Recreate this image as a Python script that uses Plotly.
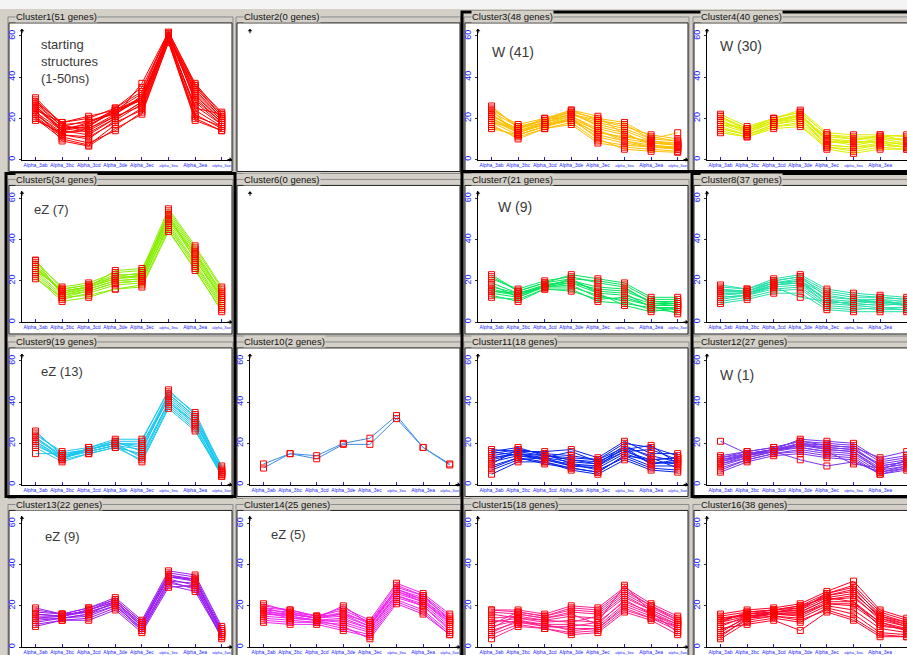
import plotly.graph_objects as go

W, H = 907, 655

# ---------------------------------------------------------------- data
categories = ["Alpha_3ab", "Alpha_3bc", "Alpha_3cd", "Alpha_3de",
              "Alpha_3ec", "alpha_3ea", "Alpha_3ea", "alpha_3ae"]
small_label_idx = [5, 7]
y_ticks = [0, 20, 40, 60]

gene_counts = [51, 0, 48, 40, 34, 0, 21, 37, 19, 2, 18, 27, 22, 25, 18, 38]

line_colors = ["#ff0000", "#ff0000", "#ffbf00", "#dcef00",
               "#88ee00", "#88ee00", "#00e65c", "#22e0a8",
               "#18c8f0", "#3a8ce8", "#0022ee", "#7733ee",
               "#9a1cf0", "#ee22ee", "#ff2090", "#ff0028"]

panel_notes = {
    0: "starting<br>structures<br>(1-50ns)",
    2: "W (41)", 3: "W (30)", 4: "eZ (7)", 6: "W (9)",
    8: "eZ (13)", 11: "W (1)", 12: "eZ (9)", 13: "eZ (5)",
}

cluster1 = [
    [28, 16, 15, 22, 30, 60, 33, 20], [30, 17, 18, 24, 32, 62, 37, 22],
    [25, 14, 12, 20, 28, 59, 30, 18], [22, 12, 10, 19, 27, 58, 26, 17],
    [20, 10, 7, 17, 25, 58, 22, 15], [19, 13, 14, 21, 26, 59, 24, 16],
    [26, 15, 17, 23, 29, 61, 35, 21], [24, 18, 20, 25, 33, 62, 36, 23],
    [21, 11, 8, 14, 23, 57, 20, 14], [27, 16, 19, 22, 31, 60, 31, 19],
    [23, 14, 16, 24, 30, 60, 34, 20], [29, 17, 13, 20, 28, 61, 29, 18],
    [20, 12, 11, 18, 24, 58, 21, 16], [25, 15, 16, 25, 35, 61, 32, 19],
    [22, 13, 15, 21, 37, 62, 28, 17], [28, 18, 21, 24, 29, 59, 25, 22],
    [24, 9, 6.5, 15, 22, 57, 19, 14], [26, 14, 18, 23, 30, 60, 36, 21],
]
cluster2 = []
cluster3 = [
    [25, 16, 19, 23, 20, 18, 11, 9], [22, 14, 18, 22, 17, 14, 9, 8],
    [20, 13, 17, 21, 15, 12, 8, 7], [18, 12, 16, 20, 12, 9, 7, 6],
    [16, 11, 15, 18, 9, 7, 6, 5], [24, 17, 20, 24, 19, 16, 12, 10],
    [21, 15, 18, 21, 14, 10, 8, 8], [19, 13, 17, 19, 11, 8, 6, 6],
    [23, 16, 19, 22, 18, 15, 10, 9], [17, 10, 15, 17, 8, 6, 5, 4],
    [15, 12, 16, 19, 13, 11, 9, 7], [26, 15, 20, 23, 16, 13, 7, 5],
    [20, 14, 17, 20, 10, 5, 4, 3.5], [22, 13, 18, 22, 19, 17, 10, 13],
    [18, 15, 19, 24, 21, 12, 8, 7], [24, 12, 16, 20, 14, 9, 6, 6],
]
cluster4 = [
    [21, 15, 20, 23, 12, 10, 11, 9], [19, 14, 19, 22, 10, 8, 10, 8],
    [17, 13, 18, 21, 9, 7, 9, 7], [15, 12, 17, 19, 7, 6, 8, 6],
    [14, 11, 16, 18, 6, 5, 7, 6], [22, 16, 20, 24, 13, 12, 12, 11],
    [18, 14, 18, 20, 8, 9, 8, 8], [16, 12, 16, 17, 5, 3, 5, 5],
    [20, 15, 19, 21, 11, 10, 10, 10], [13, 11, 15, 16, 6, 4, 6, 5],
    [19, 13, 18, 22, 9, 8, 9, 7], [17, 15, 20, 23, 12, 11, 11, 12],
    [15, 12, 17, 20, 7, 6, 7, 6], [21, 14, 19, 21, 10, 9, 12, 9],
]
cluster5 = [
    [28, 15, 17, 21, 22, 52, 34, 13], [30, 16, 18, 23, 23, 54, 36, 16],
    [25, 13, 16, 20, 21, 50, 32, 11], [23, 11, 14, 18, 19, 48, 29, 9],
    [21, 12, 13, 16, 18, 45, 25, 6], [27, 14, 17, 22, 22, 51, 33, 12],
    [29, 17, 19, 24, 25, 55, 37, 17], [24, 12, 15, 19, 20, 47, 28, 8],
    [26, 15, 17, 21, 23, 53, 35, 14], [22, 10, 12, 16, 17, 44, 26, 5],
    [28, 14, 16, 20, 21, 49, 31, 10], [25, 16, 18, 22, 24, 52, 30, 12],
    [30, 13, 15, 19, 20, 46, 27, 7], [26, 15, 17, 25, 26, 50, 33, 15],
]
cluster6 = []
cluster7 = [
    [22, 15, 19, 21, 20, 18, 11, 11], [19, 14, 18, 20, 17, 16, 10, 10],
    [16, 13, 17, 19, 14, 13, 9, 9], [14, 12, 17, 18, 12, 11, 8, 8],
    [12, 11, 16, 16, 10, 9, 7, 7], [21, 16, 20, 22, 19, 17, 9, 8],
    [15, 13, 18, 20, 15, 14, 7, 6], [17, 14, 17, 17, 13, 10, 6, 5],
    [13, 10, 16, 15, 11, 12, 8, 4], [23, 15, 19, 23, 21, 19, 12, 12],
    [18, 12, 18, 19, 16, 15, 10, 9], [15, 14, 17, 21, 14, 8, 5, 7],
]
cluster8 = [
    [17, 16, 20, 22, 15, 13, 12, 11], [15, 15, 19, 20, 13, 11, 11, 10],
    [14, 14, 18, 19, 11, 10, 10, 9], [12, 13, 17, 18, 9, 8, 9, 8],
    [10, 12, 15, 16, 7, 6, 7, 7], [18, 16, 21, 23, 16, 14, 13, 12],
    [13, 14, 18, 20, 10, 9, 8, 9], [11, 13, 16, 17, 8, 7, 6, 6],
    [16, 15, 19, 21, 14, 12, 12, 11], [9, 11, 14, 14, 6, 5, 5, 5],
    [14, 14, 17, 12, 10, 9, 10, 8], [15, 15, 20, 22, 12, 11, 9, 10],
    [12, 13, 18, 19, 9, 10, 11, 8], [16, 14, 19, 20, 11, 8, 7, 6],
]
cluster9 = [
    [25, 15, 17, 21, 21, 46, 34, 7], [23, 14, 17, 20, 19, 44, 33, 6],
    [21, 13, 16, 19, 17, 42, 31, 5], [20, 12, 15, 18, 15, 40, 29, 4],
    [18, 11, 15, 18, 12, 38, 27, 4], [24, 16, 18, 22, 22, 45, 35, 8],
    [22, 14, 17, 20, 18, 43, 32, 6], [19, 13, 16, 19, 14, 39, 28, 5],
    [15, 15, 17, 20, 20, 41, 30, 7], [26, 14, 16, 19, 11, 37, 26, 5],
    [21, 12, 18, 21, 16, 44, 33, 9], [23, 13, 17, 20, 13, 40, 30, 6],
]
cluster10 = [
    [10, 15, 14, 20, 22.5, 33.5, 18, 10],
    [8, 15, 12.5, 19.5, 19.5, 32, 18, 9.5],
]
cluster11 = [
    [17, 16, 14, 12, 10, 16, 12, 13], [15, 17, 15, 10, 9, 18, 14, 11],
    [13, 15, 13, 16, 11, 17, 10, 12], [11, 14, 12, 9, 8, 15, 11, 10],
    [9, 13, 11, 8, 6, 14, 9, 9], [16, 18, 14, 13, 12, 20, 18, 14],
    [7, 12, 13, 11, 10, 19, 13, 8], [14, 16, 16, 17, 13, 21, 15, 15],
    [12, 15, 12, 10, 7, 13, 8, 7], [5, 11, 11, 7, 5, 12, 7, 6],
    [16, 14, 13, 9, 9, 16, 17, 12], [10, 17, 15, 14, 12, 18, 10, 11],
    [8, 13, 10, 8, 6, 14, 12, 13], [13, 15, 14, 12, 11, 17, 19, 10],
]
cluster12 = [
    [21, 15, 17, 19, 18, 17, 10, 12], [13, 15, 17, 20, 19, 18, 9, 11],
    [12, 14, 16, 19, 17, 16, 8, 10], [10, 13, 16, 18, 16, 15, 7, 9],
    [8, 12, 15, 17, 15, 14, 6, 8], [14, 16, 18, 21, 20, 19, 11, 13],
    [11, 14, 17, 20, 18, 17, 9, 11], [7, 12, 15, 16, 14, 13, 5, 7],
    [6, 11, 14, 15, 13, 12, 5, 8], [12, 15, 17, 22, 21, 20, 12, 14],
    [9, 13, 16, 12, 9, 11, 6, 9], [13, 16, 18, 21, 19, 18, 13, 16],
    [10, 14, 17, 18, 16, 10, 8, 10], [11, 15, 16, 20, 17, 16, 7, 12],
]
cluster13 = [
    [18, 16, 19, 23, 12, 36, 34, 9], [16, 15, 18, 22, 11, 35, 33, 8],
    [14, 15, 17, 21, 10, 34, 32, 7], [12, 14, 16, 20, 9, 32, 31, 6],
    [10, 13, 14, 19, 8, 31, 29, 5], [19, 16, 19, 24, 13, 37, 35, 10],
    [15, 15, 18, 22, 11, 33, 30, 7], [13, 14, 15, 20, 9, 32, 28, 6],
    [17, 16, 17, 21, 8, 30, 27, 5], [11, 13, 13, 18, 7, 29, 30, 4],
    [16, 15, 18, 23, 12, 35, 32, 8], [14, 14, 16, 22, 10, 34, 33, 7],
]
cluster14 = [
    [20, 18, 15, 18, 12, 30, 25, 15], [18, 17, 14, 17, 11, 28, 24, 14],
    [17, 16, 14, 16, 10, 27, 23, 12], [16, 15, 13, 14, 9, 26, 22, 11],
    [15, 14, 13, 12, 8, 25, 21, 10], [14, 13, 12, 11, 7, 24, 20, 9],
    [21, 17, 15, 19, 13, 31, 26, 16], [19, 16, 14, 15, 10, 29, 25, 13],
    [13, 12, 12, 9, 6, 23, 18, 7], [12, 11, 11, 8, 5, 22, 17, 6],
    [18, 15, 13, 13, 9, 25, 20, 8], [16, 16, 14, 20, 11, 27, 22, 12],
    [17, 14, 13, 10, 4, 21, 16, 6], [19, 18, 15, 16, 12, 28, 23, 13],
]
cluster15 = [
    [18, 17, 15, 19, 18, 28, 20, 14], [17, 16, 14, 17, 16, 26, 19, 13],
    [14, 15, 13, 15, 14, 24, 18, 12], [12, 14, 12, 13, 12, 22, 17, 11],
    [10, 13, 11, 11, 10, 21, 16, 10], [8, 12, 10, 9, 9, 20, 15, 9],
    [6, 11, 9, 7, 8, 18, 14, 8], [4, 10, 9, 6, 7, 17, 13, 6],
    [18, 18, 16, 20, 19, 29, 21, 15], [16, 14, 13, 12, 15, 25, 18, 12],
    [9, 16, 14, 16, 11, 23, 16, 11], [13, 12, 11, 8, 9, 19, 14, 10],
    [11, 17, 15, 18, 17, 27, 20, 13], [7, 13, 10, 10, 12, 30, 17, 7],
]
cluster16 = [
    [15, 17, 18, 20, 26, 30, 17, 13], [14, 16, 18, 19, 25, 28, 16, 12],
    [13, 16, 17, 18, 24, 26, 15, 11], [12, 15, 17, 17, 23, 24, 14, 10],
    [10, 15, 16, 16, 22, 22, 12, 9], [8, 14, 16, 15, 21, 20, 11, 8],
    [6, 13, 15, 14, 20, 18, 9, 7], [4, 12, 14, 12, 19, 16, 7, 6],
    [16, 18, 19, 21, 27, 32, 18, 14], [11, 14, 15, 13, 18, 14, 6, 5],
    [9, 11, 13, 8, 17, 13, 5, 5], [13, 16, 17, 19, 25, 27, 14, 11],
    [7, 15, 16, 17, 23, 25, 13, 10], [12, 17, 18, 20, 24, 22, 10, 9],
    [5, 14, 17, 18, 26, 29, 15, 12], [14, 15, 16, 16, 21, 21, 12, 8],
]

clusters = [cluster1, cluster2, cluster3, cluster4, cluster5, cluster6,
            cluster7, cluster8, cluster9, cluster10, cluster11, cluster12,
            cluster13, cluster14, cluster15, cluster16]

# ---------------------------------------------------------------- layout geometry (pixels)
COL_AXIS_X = [22, 250, 478, 707]      # y-axis line of each column
TICK_OFFSET = 13.5                    # first category to the right of the y-axis
CAT_STEP = 26.6                       # pixels between categories
AXIS_LEN = 210
ROW_ZERO_Y = [160, 323, 486, 649]     # y = 0 line of each row
Y_MAX = 63.5
PX_PER_UNIT = 2.065

BG = "#d4d0c8"
TICK_BLUE = "#1a1aff"
MARKER_RED = "#ff0000"


def fx(px):
    return px / W


def fy(py):
    return 1 - py / H


ticktext = [
    f"<span style='font-size:4px'>{c}</span>" if i in small_label_idx else c
    for i, c in enumerate(categories)
]

fig = go.Figure()
shapes = []
annotations = []
layout_axes = {}

# top window strip
shapes.append(dict(type="rect", xref="paper", yref="paper", x0=0, x1=1,
                   y0=fy(9), y1=1, fillcolor="#f4f4f4", line_width=0, layer="below"))

for i, profiles in enumerate(clusters):
    r, c = divmod(i, 4)
    ax_x = COL_AXIS_X[c]
    right = min(ax_x + AXIS_LEN, W)
    first = ax_x + TICK_OFFSET
    zero = ROW_ZERO_Y[r]
    top = zero - Y_MAX * PX_PER_UNIT
    n = i + 1
    xa = "x" if n == 1 else f"x{n}"
    ya = "y" if n == 1 else f"y{n}"
    has_data = len(profiles) > 0

    # group box, white plot area
    shapes.append(dict(type="rect", xref="paper", yref="paper",
                       x0=fx(ax_x - 14), x1=fx(min(ax_x + 211, W + 5)),
                       y0=fy(zero + 14), y1=fy(zero - 143),
                       line=dict(color="#8a8a8a", width=1), layer="below"))
    shapes.append(dict(type="rect", xref="paper", yref="paper",
                       x0=fx(ax_x - 13), x1=fx(min(ax_x + 210, W + 5)),
                       y0=fy(zero + 12), y1=fy(zero - 137),
                       fillcolor="white", line=dict(color="#202020", width=1),
                       layer="below"))

    layout_axes["xaxis" if n == 1 else f"xaxis{n}"] = dict(
        domain=[fx(ax_x), fx(right)], anchor=ya,
        range=[(ax_x - first) / CAT_STEP, (right - first) / CAT_STEP],
        tickvals=list(range(len(categories))), ticktext=ticktext, tickangle=0,
        tickfont=dict(family="Liberation Sans", size=5, color=TICK_BLUE),
        ticks="inside", ticklen=3, tickcolor=TICK_BLUE,
        showline=has_data, linecolor="black", linewidth=1,
        showgrid=False, zeroline=False, fixedrange=True,
    )
    layout_axes["yaxis" if n == 1 else f"yaxis{n}"] = dict(
        domain=[fy(zero), fy(top)], anchor=xa, range=[0, Y_MAX],
        tickvals=y_ticks, tickangle=-90,
        tickfont=dict(family="Liberation Sans", size=9, color=TICK_BLUE),
        ticks="outside", ticklen=2, tickcolor="#333",
        showline=has_data, linecolor="black", linewidth=1,
        showgrid=False, zeroline=False, fixedrange=True,
    )

    # axis arrowheads
    annotations.append(dict(xref="paper", yref="paper", x=fx(ax_x), y=fy(top),
                            text="", showarrow=True, ax=0, ay=6, arrowhead=1,
                            arrowsize=0.8, arrowwidth=1, arrowcolor="black"))
    if right < W and has_data:
        annotations.append(dict(xref="paper", yref="paper", x=fx(right), y=fy(zero),
                                text="", showarrow=True, ax=-6, ay=0, arrowhead=1,
                                arrowsize=0.8, arrowwidth=1, arrowcolor="black"))

    # panel caption
    annotations.append(dict(xref="paper", yref="paper", x=fx(ax_x - 7), y=fy(zero - 143),
                            text=f"Cluster{n}({gene_counts[i]} genes)",
                            showarrow=False, xanchor="left", yanchor="middle",
                            bgcolor=BG, borderpad=0,
                            font=dict(family="Liberation Sans", size=9.5, color="#111")))

    if has_data:
        xs, ys = [], []
        for p in profiles:
            xs += list(range(len(categories))) + [None]
            ys += list(p) + [None]
        fig.add_trace(go.Scatter(x=xs, y=ys, xaxis=xa, yaxis=ya, mode="lines",
                                 line=dict(color=line_colors[i], width=1),
                                 connectgaps=False, hoverinfo="skip"))
        fig.add_trace(go.Scatter(x=xs, y=ys, xaxis=xa, yaxis=ya, mode="markers",
                                 marker=dict(symbol="square-open", size=6,
                                             color=MARKER_RED,
                                             line=dict(width=1, color=MARKER_RED)),
                                 hoverinfo="skip"))

# free-text notes inside panels (left x, centre y in pixels)
note_pos = {0: (39, 62, 13), 2: (490, 52, 14), 3: (718, 46, 14), 4: (32, 210, 13),
            6: (496, 208, 14), 8: (39, 373, 13), 11: (718, 376, 14),
            12: (43, 538, 13), 13: (269, 536, 13)}
for i, txt in panel_notes.items():
    px, py, fs = note_pos[i]
    annotations.append(dict(xref="paper", yref="paper", x=fx(px), y=fy(py), text=txt,
                            showarrow=False, xanchor="left", yanchor="middle",
                            align="left",
                            font=dict(family="Liberation Sans", size=fs, color="#3a3a3a")))

# heavy selection frames
thick = dict(color="black", width=3)
for (x0, y0, x1, y1) in [(462, 12, 912, 172), (6, 174, 235, 498), (692, 174, 912, 498)]:
    shapes.append(dict(type="rect", xref="paper", yref="paper",
                       x0=fx(x0), x1=fx(x1), y0=fy(y1), y1=fy(y0), line=thick))
shapes.append(dict(type="line", xref="paper", yref="paper",
                   x0=fx(462), x1=fx(462), y0=fy(172), y1=fy(660), line=thick))

fig.update_layout(
    width=W, height=H, margin=dict(l=0, r=0, t=0, b=0),
    paper_bgcolor=BG, plot_bgcolor="rgba(0,0,0,0)",
    showlegend=False, shapes=shapes, annotations=annotations,
    **layout_axes,
)

fig.write_html("out.html")
